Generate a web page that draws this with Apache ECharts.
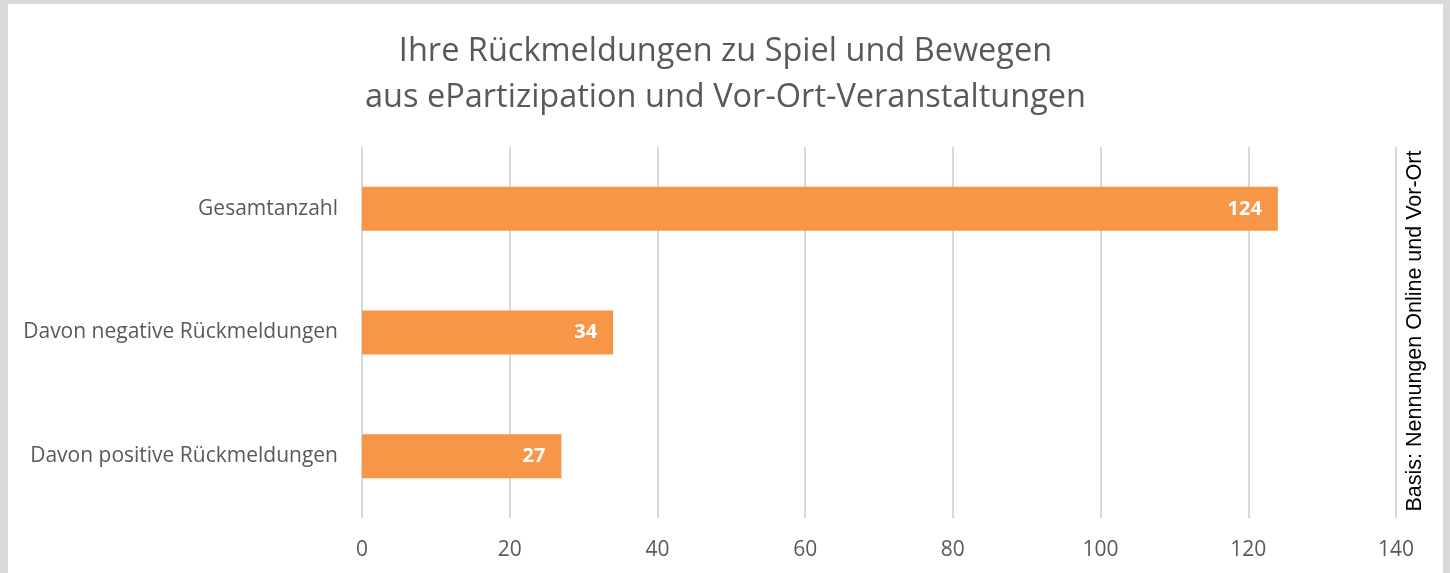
<!DOCTYPE html>
<html>
<head>
<meta charset="utf-8">
<script src="https://cdn.jsdelivr.net/npm/echarts@6/dist/echarts.min.js"></script>
<style>
  body { margin: 0; background: #d9d9d9; width: 1450px; height: 573px; overflow: hidden; }
  #main { position: absolute; left: 8px; top: 4px; width: 1435px; height: 569px; background: #fff; }
</style>
</head>
<body>
<div id="main"></div>
<script>
// Daten
const categories = ['Davon positive Rückmeldungen', 'Davon negative Rückmeldungen', 'Gesamtanzahl'];
const values = [27, 34, 124];
const axisMax = 140;
const axisStep = 20;

const myChart = echarts.init(document.getElementById('main'));

myChart.setOption({
  animation: false,
  textStyle: { fontFamily: 'Open Sans' },
  title: {
    text: 'Ihre Rückmeldungen zu Spiel und Bewegen\naus ePartizipation und Vor-Ort-Veranstaltungen',
    left: 'center',
    top: 20,
    textStyle: { fontSize: 32.5, fontWeight: 'normal', color: '#595959', lineHeight: 46, fontFamily: 'Open Sans' }
  },
  grid: { left: 354, right: 47, top: 143, bottom: 55 },
  xAxis: {
    type: 'value',
    min: 0,
    max: axisMax,
    interval: axisStep,
    axisLine: { show: false },
    axisTick: { show: false },
    axisLabel: { fontSize: 21, color: '#595959', margin: 22 },
    splitLine: { lineStyle: { color: '#d9d9d9', width: 2 } }
  },
  yAxis: {
    type: 'category',
    data: categories,
    axisLine: { show: false },
    axisTick: { show: false },
    axisLabel: { fontSize: 21, color: '#595959', margin: 24 }
  },
  series: [{
    type: 'bar',
    data: values,
    barWidth: 44,
    itemStyle: { color: '#f79646' },
    label: {
      show: true,
      position: 'insideRight',
      distance: 16,
      color: '#fff',
      fontWeight: 'bold',
      fontSize: 20
    }
  }],
  graphic: [{
    type: 'text',
    x: 1407,
    y: 327,
    rotation: Math.PI / 2,
    style: {
      text: 'Basis: Nennungen Online und Vor-Ort',
      font: '21.5px "Liberation Sans"',
      fill: '#000',
      align: 'center',
      verticalAlign: 'middle'
    }
  }]
});
</script>
</body>
</html>
